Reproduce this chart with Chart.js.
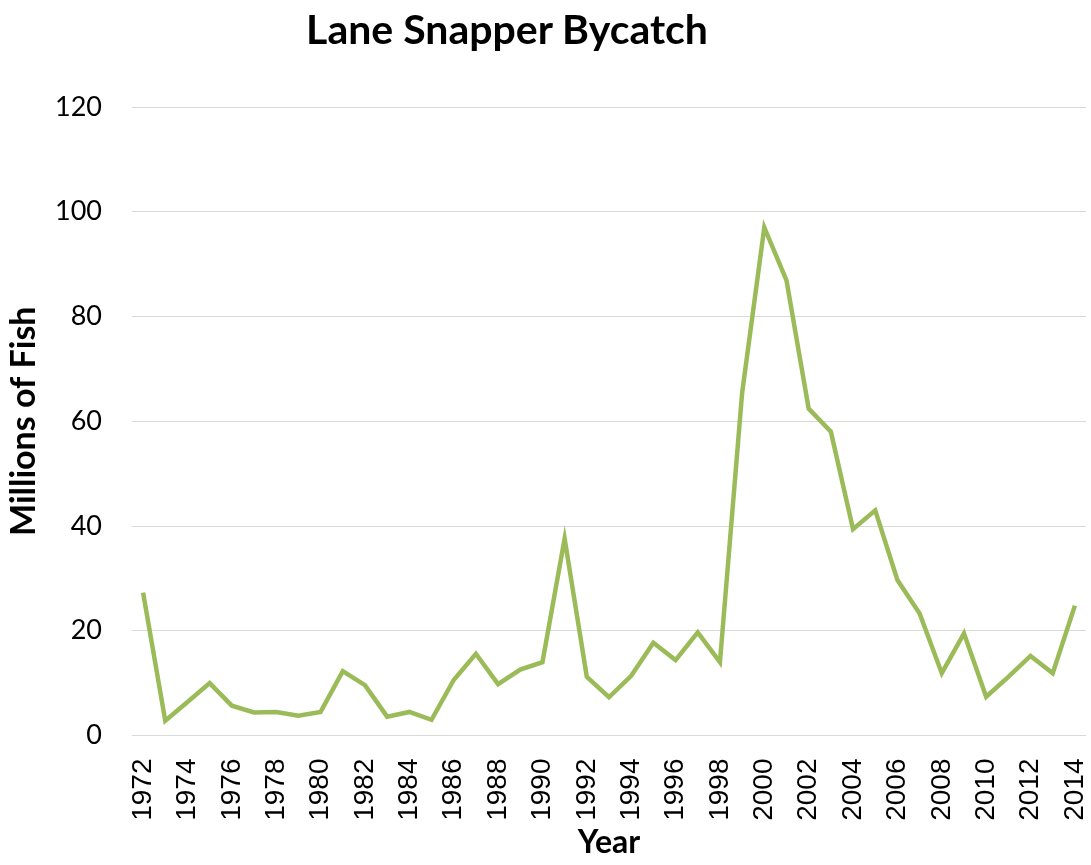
<!DOCTYPE html>
<html>
<head>
<meta charset="utf-8">
<script src="https://cdn.jsdelivr.net/npm/chart.js@4/dist/chart.umd.min.js"></script>
<style>
  html, body { margin: 0; padding: 0; background: #fff; }
  #wrap { position: relative; width: 1091px; height: 865px; }
  #title {
    position: absolute; left: 507px; top: 28px; transform: translate(-50%, -50%);
    font-family: Lato, sans-serif; font-weight: bold; font-size: 41px; color: #000;
    white-space: nowrap;
  }
</style>
</head>
<body>
<div id="wrap">
  <canvas id="chart" width="1091" height="865"></canvas>
  <div id="title">Lane Snapper Bycatch</div>
</div>
<script>
const years = [];
for (let y = 1972; y <= 2014; y++) years.push(String(y));

const bycatch = [
  27.3, 2.8, 6.4, 10.0, 5.7, 4.4, 4.5, 3.8, 4.5, 12.3,
  9.6, 3.6, 4.5, 3.0, 10.6, 15.6, 9.8, 12.6, 14.0, 37.6,
  11.2, 7.3, 11.4, 17.7, 14.4, 19.7, 14.0, 65.4, 97.0, 86.9,
  62.4, 58.0, 39.4, 43.0, 29.7, 23.3, 11.9, 19.5, 7.4, 11.2,
  15.2, 11.9, 24.8
];

const yTicks = [0, 20, 40, 60, 80, 100, 120];

new Chart(document.getElementById('chart'), {
  type: 'line',
  data: {
    labels: years,
    datasets: [{
      label: 'Lane Snapper Bycatch',
      data: bycatch,
      borderColor: '#9BBB59',
      borderWidth: 4.5,
      pointRadius: 0,
      tension: 0,
      fill: false
    }]
  },
  options: {
    responsive: false,
    animation: false,
    layout: { padding: { left: 0, top: 107, right: 5, bottom: 0 } },
    plugins: {
      legend: { display: false },
      tooltip: { enabled: false }
    },
    scales: {
      x: {
        offset: true,
        grid: { display: false },
        border: { display: false },
        ticks: {
          autoSkip: false,
          maxRotation: 90,
          minRotation: 90,
          padding: 15,
          color: '#000',
          font: { family: 'Liberation Sans', size: 28 },
          callback: (v, i) => (i % 2 === 0 ? years[i] : '')
        },
        title: {
          display: true,
          text: 'Year',
          color: '#000',
          padding: { top: 0, bottom: 3 },
          font: { family: 'Lato', weight: 'bold', size: 32 }
        },
        afterFit: s => { s.height = 129.5; s.paddingLeft = 0; s.paddingRight = 0; }
      },
      y: {
        min: 0,
        max: 120,
        afterBuildTicks: s => { s.ticks = yTicks.map(v => ({ value: v })); },
        grid: { color: '#D9D9D9', lineWidth: 1, drawTicks: false },
        border: { display: false },
        ticks: {
          padding: 30,
          color: '#000',
          font: { family: 'Lato', size: 27 }
        },
        title: {
          display: true,
          text: 'Millions of Fish',
          color: '#000',
          padding: { top: 4, bottom: 0 },
          font: { family: 'Lato', weight: 'bold', size: 34 }
        },
        afterFit: s => { s.width = 132; s.paddingTop = 0; s.paddingBottom = 0; }
      }
    }
  }
});
</script>
</body>
</html>
